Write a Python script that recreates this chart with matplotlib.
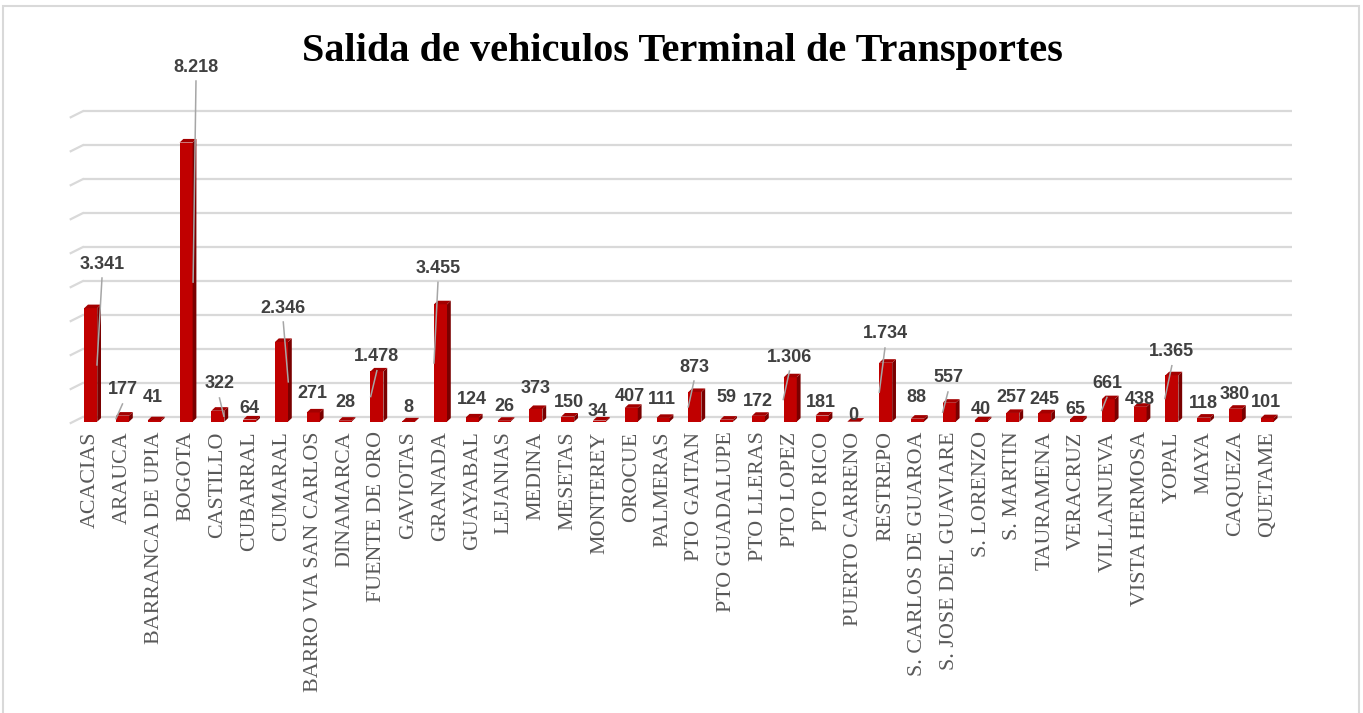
import matplotlib
matplotlib.use("Agg")
import matplotlib.pyplot as plt
from matplotlib.patches import Polygon, Rectangle
from matplotlib.transforms import ScaledTranslation

# ---------------- data ----------------
categories = [
    "ACACIAS", "ARAUCA", "BARRANCA DE UPIA", "BOGOTA", "CASTILLO", "CUBARRAL",
    "CUMARAL", "BARRO VIA SAN CARLOS", "DINAMARCA", "FUENTE DE ORO", "GAVIOTAS",
    "GRANADA", "GUAYABAL", "LEJANIAS", "MEDINA", "MESETAS", "MONTEREY", "OROCUE",
    "PALMERAS", "PTO GAITAN", "PTO GUADALUPE", "PTO LLERAS", "PTO LOPEZ",
    "PTO RICO", "PUERTO CARRENO", "RESTREPO", "S. CARLOS DE GUAROA",
    "S. JOSE DEL GUAVIARE", "S. LORENZO", "S. MARTIN", "TAURAMENA", "VERACRUZ",
    "VILLANUEVA", "VISTA HERMOSA", "YOPAL", "MAYA", "CAQUEZA", "QUETAME",
]
values = [
    3341, 177, 41, 8218, 322, 64, 2346, 271, 28, 1478, 8, 3455, 124, 26, 373,
    150, 34, 407, 111, 873, 59, 172, 1306, 181, 0, 1734, 88, 557, 40, 257, 245,
    65, 661, 438, 1365, 118, 380, 101,
]
title = "Salida de vehiculos Terminal de Transportes"
grid_values = [0, 1000, 2000, 3000, 4000, 5000, 6000, 7000, 8000, 9000]

# label placement (pixels): horizontal shift, height of label centre above bar top
label_dx = [11.3, 0, -1.3, 9.9, 1.6, -0.7, 1.8, -0.8, 0, 0, -0.7, -2.5, 0, 0, 0,
            1.3, -1.5, -1.3, -1, -0.9, -0.7, -0.5, -0.8, -1.1, -0.9, -0.7, -0.8,
            -1.3, -0.4, -1.6, -0.4, -0.7, -1.3, 0, 0, 0, -0.8, -1.5]
label_dy = [44.2, 25.7, 23.3, 75.5, 26.8, 11.5, 34, 18.5, 18.7, 14.8, 14, 36,
            17.5, 14.8, 21, 14.6, 9, 11, 18, 25, 21.7, 14.2, 20.3, 12.6, 6.7,
            28.8, 21.4, 24.8, 10.6, 15.7, 13.4, 9.5, 15.9, 7.5, 23.6, 13.7, 13.8,
            15.8]
# leader lines: bar index -> horizontal end offset (px) from bar centre
leaders = {0: 6.3, 1: -6.5, 3: 7, 4: 6, 6: 6.8, 9: -6.2, 11: -6.5, 19: -6.6,
           22: -7, 25: -6.4, 27: -6.6, 32: -6.6, 34: -7}

# ---------------- style ----------------
DPI = 100
FRONT = "#C00000"
SIDE = "#7A0000"
TOP = "#A30000"
GRID = "#D9D9D9"
LABEL = "#404040"
TICK = "#595959"

fig = plt.figure(figsize=(13.63, 7.13), dpi=DPI)
fig.patch.set_facecolor("white")
fig.patches.append(Rectangle((3 / 1363, -0.02), 1356 / 1363, (713 - 6) / 713 + 0.02,
                             transform=fig.transFigure, fill=False,
                             edgecolor="#D9D9D9", lw=1.5))

ax = fig.add_axes([60 / 1363, (713 - 421.7) / 713, 1240 / 1363, 321.7 / 713])
n = len(categories)
x = list(range(n))
ax.set_xlim(-0.965, n - 1 + 1.03)
ax.set_ylim(0, 9470)
for s in ax.spines.values():
    s.set_visible(False)
ax.set_yticks([])
ax.patch.set_alpha(0)

fig.canvas.draw()
p0 = ax.transData.transform((0, 0))
p1 = ax.transData.transform((1, 1000))
pxx = p1[0] - p0[0]            # pixels per category
pxy = (p1[1] - p0[1]) / 1000   # pixels per unit value

def dxu(px):
    return px / pxx

def dyu(px):
    return px / pxy

# gridlines on the back wall (shifted up) with a short stub to the left
back = ax.transData + ScaledTranslation(0, 4.7 / DPI, fig.dpi_scale_trans)
xa, xb = -0.25, n - 1 + 0.78
for g in grid_values:
    ax.plot([xa, xb], [g, g], transform=back, color=GRID, lw=1.6,
            zorder=1, clip_on=False, solid_capstyle="butt")
    ax.plot([xa, xa - dxu(12)], [g, g - dyu(6)], transform=back, color=GRID,
            lw=1.6, zorder=1, clip_on=False)

# 3D-looking bars
W = 0.41
ddx, ddy = dxu(3.8), dyu(3.6)
ax.bar(x, values, width=W, color=FRONT, zorder=3, linewidth=0)
for i, v in zip(x, values):
    r = i + W / 2
    l = i - W / 2
    side = Polygon([(r, 0), (r + ddx, ddy), (r + ddx, v + ddy), (r, v)],
                   closed=True, facecolor=SIDE, edgecolor="none", zorder=3)
    top = Polygon([(l, v), (r, v), (r + ddx, v + ddy), (l + ddx, v + ddy)],
                  closed=True, facecolor=TOP, edgecolor="none", zorder=3.1)
    ax.add_patch(side)
    ax.add_patch(top)

# value labels and leader lines
for i, v in zip(x, values):
    txt = f"{v:,}".replace(",", ".")
    lx = i + dxu(label_dx[i])
    ly = v + dyu(label_dy[i])
    ax.text(lx, ly, txt, ha="center", va="center", fontsize=13,
            fontweight="bold", color=LABEL, family="Liberation Sans",
            zorder=6, clip_on=False)
    if i in leaders:
        sx, sy = lx, v + dyu(label_dy[i] - 14)
        ex, ey = i + dxu(leaders[i]), v / 2
        ax.plot([sx, ex], [sy, ey], color="#A6A6A6", lw=1.1, zorder=5,
                clip_on=False)

ax.set_xticks(x)
ax.set_xticklabels(categories, rotation=90, fontsize=15.8, color=TICK,
                   family="Liberation Serif")
ax.tick_params(axis="x", length=0, pad=7)

fig.text(682 / 1363, 1 - 52 / 713, title, ha="center", va="center",
         fontsize=29, fontweight="bold", family="Liberation Serif", color="black")

fig.savefig("out.png", dpi=DPI)
